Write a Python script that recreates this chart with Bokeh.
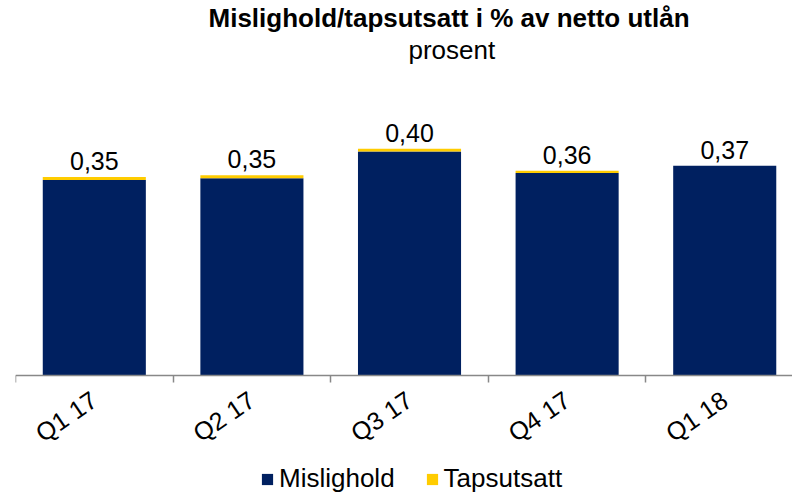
from bokeh.plotting import figure
from bokeh.models import (Range1d, FixedTicker, CustomJSTickFormatter, Legend,
                          LegendItem, Title, ColumnDataSource)
from bokeh.core.properties import value
from bokeh.embed import file_html
from bokeh.resources import INLINE

categories = ["Q1 17", "Q2 17", "Q3 17", "Q4 17", "Q1 18"]
mislighold = [0.345, 0.348, 0.395, 0.357, 0.370]
tapsutsatt = [0.005, 0.005, 0.005, 0.004, 0.000]
labels = ["0,35", "0,35", "0,40", "0,36", "0,37"]

NAVY = "#002060"
YELLOW = "#FFCC00"
FONT = "Liberation Sans"

xs = [i + 0.5 for i in range(len(categories))]
totals = [m + t for m, t in zip(mislighold, tapsutsatt)]
src = ColumnDataSource(dict(x=xs, mislighold=mislighold, tapsutsatt=tapsutsatt,
                            total=totals, label=labels))

p = figure(width=792, height=496, output_backend="svg", toolbar_location=None,
           x_range=Range1d(0, 4.93), y_range=Range1d(-0.212, 0.548),
           min_border_left=15, min_border_right=0, min_border_bottom=0,
           min_border_top=0)
p.title = None

rs = p.vbar_stack(["mislighold", "tapsutsatt"], x="x", width=0.654, source=src,
                  color=[NAVY, YELLOW], line_color=None)

p.text(x="x", y="total", text="label", source=src, text_align="center",
       text_baseline="alphabetic", y_offset=-16, text_font=value(FONT),
       text_font_size="25px", text_color="black")

p.yaxis.visible = False
p.xgrid.visible = False
p.ygrid.visible = False
p.outline_line_color = None

ax = p.xaxis[0]
ax.fixed_location = 0
ax.ticker = FixedTicker(ticks=xs, minor_ticks=list(range(len(categories) + 1)))
ax.formatter = CustomJSTickFormatter(args=dict(labels=categories),
                                     code="return labels[Math.floor(tick)];")
ax.axis_line_color = "#888888"
ax.axis_line_width = 1.5
ax.major_tick_line_color = None
ax.major_tick_out = 0
ax.major_tick_in = 0
ax.minor_tick_line_color = "#888888"
ax.minor_tick_line_width = 1.5
ax.minor_tick_out = 7
ax.minor_tick_in = 0
ax.major_label_orientation = 0.6
ax.major_label_standoff = 14
ax.major_label_text_font = FONT
ax.major_label_text_font_size = "25px"
ax.major_label_text_color = "black"

legend = Legend(items=[LegendItem(label="Mislighold", renderers=[rs[0]]),
                       LegendItem(label="Tapsutsatt", renderers=[rs[1]])],
                orientation="horizontal", location=(245, 2),
                glyph_width=14, glyph_height=14, label_standoff=5, spacing=30,
                label_text_font=FONT, label_text_font_size="26px",
                label_text_color="black",
                border_line_color=None, background_fill_alpha=0,
                padding=0, margin=0)
p.add_layout(legend, "center")

p.add_layout(Title(text="prosent", align="left", offset=393,
                   text_font=FONT, text_font_size="26px", text_color="black",
                   text_font_style="normal", standoff=0), "above")
p.add_layout(Title(text="Mislighold/tapsutsatt i % av netto utlån", align="left",
                   offset=193, text_font=FONT, text_font_size="26px",
                   text_color="black", text_font_style="bold", standoff=0), "above")

open("out.html", "w").write(file_html(p, INLINE))
